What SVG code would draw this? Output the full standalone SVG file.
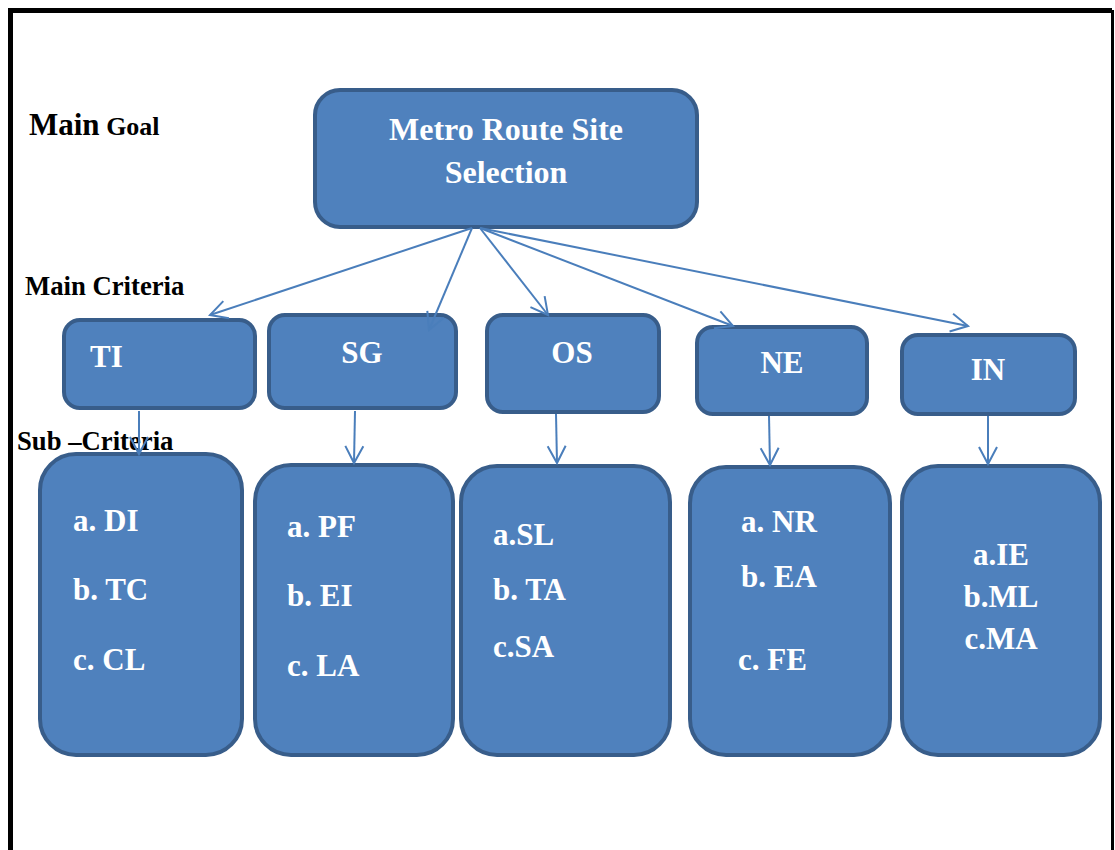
<svg xmlns="http://www.w3.org/2000/svg" width="1115" height="850" viewBox="0 0 1115 850">
<style>
.box{fill:#4f81bd;stroke:#385d8a;stroke-width:4}
.t{font-family:"Liberation Serif","Times New Roman",serif;font-weight:bold;fill:#ffffff}
.lbl{font-family:"Liberation Serif","Times New Roman",serif;font-weight:bold;fill:#000000}
.c{fill:none;stroke:#4a7ebb;stroke-width:2}
</style>
<defs>
<marker id="ah" markerUnits="userSpaceOnUse" markerWidth="40" markerHeight="40" viewBox="-20 -20 40 40" refX="0" refY="0" orient="auto">
<path d="M-17,-9 L0,0 L-17,9" fill="none" stroke="#4a7ebb" stroke-width="2"/>
</marker>
</defs>
<rect width="1115" height="850" fill="#ffffff"/>
<path d="M10.5,850 V10.5 H1112" fill="none" stroke="#000" stroke-width="5"/>
<path d="M1112.5,10 V850" fill="none" stroke="#000" stroke-width="3"/>

<g id="labels">
<text class="lbl" x="29" y="135"><tspan font-size="31">Main</tspan><tspan font-size="26"> Goal</tspan></text>
<text class="lbl" x="25" y="295" font-size="26.7">Main Criteria</text>
<text class="lbl" x="17" y="450" font-size="26.7">Sub –Criteria</text>
</g>

<g id="goal">
<rect class="box" x="315" y="90" width="382" height="137" rx="25"/>
<text class="t" x="506" y="140" font-size="32" text-anchor="middle">Metro Route Site</text>
<text class="t" x="506" y="183" font-size="32" text-anchor="middle">Selection</text>
</g>

<g id="TI">
<rect class="box" x="64" y="320" width="191" height="88" rx="16"/>
<text class="t" x="90" y="367" font-size="31">TI</text>
</g>
<g id="SG">
<rect class="box" x="269" y="315" width="187" height="93" rx="16"/>
<text class="t" x="362" y="363" font-size="31" text-anchor="middle">SG</text>
</g>
<g id="OS">
<rect class="box" x="487" y="315" width="172" height="97" rx="16"/>
<text class="t" x="572" y="363" font-size="31" text-anchor="middle">OS</text>
</g>
<g id="NE">
<rect class="box" x="697" y="327" width="170" height="87" rx="16"/>
<text class="t" x="782" y="373" font-size="31" text-anchor="middle">NE</text>
</g>
<g id="IN">
<rect class="box" x="902" y="335" width="173" height="79" rx="16"/>
<text class="t" x="988" y="380" font-size="31" text-anchor="middle">IN</text>
</g>

<g id="sub-TI">
<rect class="box" x="40" y="454" width="202" height="301" rx="36"/>
<text class="t" x="73" y="531" font-size="31">a. DI</text>
<text class="t" x="73" y="600" font-size="31">b. TC</text>
<text class="t" x="73" y="670" font-size="31">c. CL</text>
</g>
<g id="sub-SG">
<rect class="box" x="255" y="465" width="198" height="290" rx="36"/>
<text class="t" x="287" y="537" font-size="31">a. PF</text>
<text class="t" x="287" y="606" font-size="31">b. EI</text>
<text class="t" x="287" y="676" font-size="31">c. LA</text>
</g>
<g id="sub-OS">
<rect class="box" x="461" y="466" width="209" height="289" rx="36"/>
<text class="t" x="493" y="545" font-size="31">a.SL</text>
<text class="t" x="493" y="600" font-size="31">b. TA</text>
<text class="t" x="493" y="657" font-size="31">c.SA</text>
</g>
<g id="sub-NE">
<rect class="box" x="690" y="467" width="200" height="288" rx="36"/>
<text class="t" x="741" y="532" font-size="31">a. NR</text>
<text class="t" x="741" y="587" font-size="31">b. EA</text>
<text class="t" x="738" y="670" font-size="31">c. FE</text>
</g>
<g id="sub-IN">
<rect class="box" x="902" y="466" width="198" height="289" rx="36"/>
<text class="t" x="1001" y="565" font-size="31" text-anchor="middle">a.IE</text>
<text class="t" x="1001" y="607" font-size="31" text-anchor="middle">b.ML</text>
<text class="t" x="1001" y="649" font-size="31" text-anchor="middle">c.MA</text>
</g>

<g id="connectors">
<line class="c" x1="472" y1="228" x2="210" y2="315" marker-end="url(#ah)"/>
<line class="c" x1="472" y1="228" x2="429" y2="330" marker-end="url(#ah)"/>
<line class="c" x1="480" y1="228" x2="548" y2="315" marker-end="url(#ah)"/>
<line class="c" x1="480" y1="228" x2="733" y2="326" marker-end="url(#ah)"/>
<line class="c" x1="480" y1="228" x2="968" y2="326" marker-end="url(#ah)"/>
<line class="c" x1="139" y1="411" x2="139" y2="454" marker-end="url(#ah)"/>
<line class="c" x1="355" y1="411" x2="354" y2="463" marker-end="url(#ah)"/>
<line class="c" x1="556" y1="414" x2="557" y2="463" marker-end="url(#ah)"/>
<line class="c" x1="769" y1="416" x2="770" y2="465" marker-end="url(#ah)"/>
<line class="c" x1="988" y1="416" x2="988" y2="464" marker-end="url(#ah)"/>
</g>
</svg>
